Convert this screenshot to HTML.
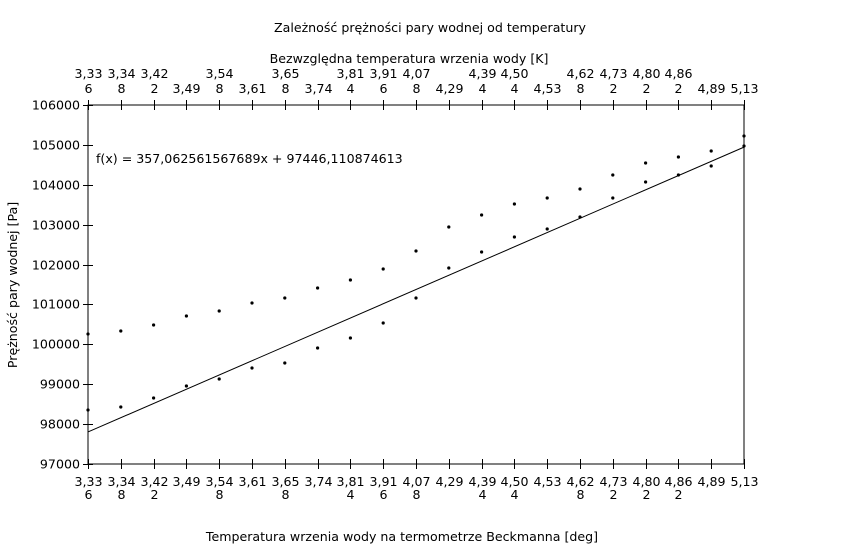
<!DOCTYPE html>
<html><head><meta charset="utf-8"><style>
body{margin:0;background:#fff;}
svg text{font-family:"DejaVu Sans","Liberation Sans",sans-serif;font-size:12.6px;fill:#000;}
</style></head><body>
<svg id="c" width="858" height="548" xmlns="http://www.w3.org/2000/svg">
<text x="430" y="32" text-anchor="middle">Zależność prężności pary wodnej od temperatury</text>
<text x="409" y="63" text-anchor="middle">Bezwzględna temperatura wrzenia wody [K]</text>
<text x="402" y="541" text-anchor="middle">Temperatura wrzenia wody na termometrze Beckmanna [deg]</text>
<text transform="translate(17,285) rotate(-90)" text-anchor="middle">Prężność pary wodnej [Pa]</text>
<text x="96" y="163">f(x) = 357,062561567689x + 97446,110874613</text>
<g id="g"></g>
</svg>
<script>
const categories=["3,336","3,348","3,422","3,49","3,548","3,61","3,658","3,74","3,814","3,916","4,078","4,29","4,394","4,504","4,53","4,628","4,732","4,802","4,862","4,89","5,13"];
const seriesUpper=[100259,100334,100485,100710,100835,101036,101161,101412,101612,101888,102340,102941,103242,103518,103668,103894,104245,104546,104696,104847,105223];
const seriesLower=[98354,98429,98655,98955,99131,99407,99532,99908,100159,100535,101161,101913,102315,102691,102891,103192,103668,104069,104245,104471,104972];
const yTicks=[97000,98000,99000,100000,101000,102000,103000,104000,105000,106000];
const fitSlope=357.062561567689, fitIntercept=97446.110874613;
const NS="http://www.w3.org/2000/svg",g=document.getElementById('g');
const L=88,R=744,T=105,B=464,ymin=97000,ymax=106000;
const xs=i=>L+(R-L)*i/(categories.length-1);
const ys=v=>B-(v-ymin)/(ymax-ymin)*(B-T);
function mk(t,a){const e=document.createElementNS(NS,t);for(const k in a)e.setAttribute(k,a[k]);g.appendChild(e);return e;}
let e=mk('rect',{x:L,y:T,width:R-L,height:B-T,fill:'none',stroke:'#000','stroke-width':1});


yTicks.forEach(v=>{const y=Math.round(ys(v))+0.5;
 let t=mk('line',{x1:L-5,x2:L+5,y1:y,y2:y,stroke:'#000'});
 
 
 let l=mk('text',{x:L-8,y:y+4,'text-anchor':'end'});l.textContent=v;
 
 
});
categories.forEach((c,i)=>{const x=Math.round(xs(i))+0.5;
 let t=mk('line',{x1:x,x2:x,y1:B-5,y2:B+5,stroke:'#000'});
 
 
 let t2=mk('line',{x1:x,x2:x,y1:T-5,y2:T+5,stroke:'#000'});
 
 
 const a=c.slice(0,4),b=c.slice(4);
 let l=mk('text',{x:x,y:B+22,'text-anchor':'middle'});l.textContent=a;
 
 
 if(b){let l2=mk('text',{x:x,y:B+35,'text-anchor':'middle'});l2.textContent=b;
  
  }
 let tl=mk('text',{x:x,y:b?78:93,'text-anchor':'middle'});tl.textContent=a;
 
 
 if(b){let tl2=mk('text',{x:x,y:93,'text-anchor':'middle'});tl2.textContent=b;
  
  }
});
let fl=mk('line',{x1:xs(0),y1:ys(fitSlope*1+fitIntercept),x2:xs(categories.length-1),y2:ys(fitSlope*categories.length+fitIntercept),stroke:'#000','stroke-width':1});


[seriesUpper,seriesLower].forEach((s,k)=>s.forEach((v,i)=>{
 let p=mk('circle',{cx:xs(i),cy:ys(v),r:1.6,fill:'#000'});
 
 
}));
</script>
</body></html>
